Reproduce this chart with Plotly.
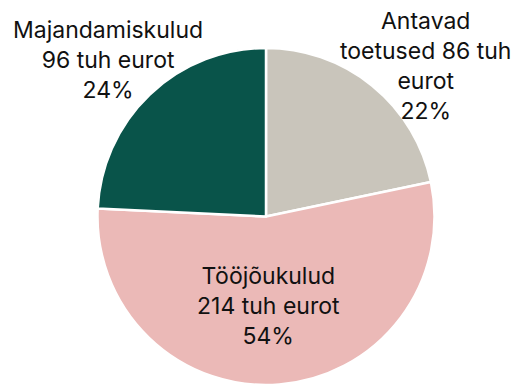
import textwrap
import plotly.graph_objects as go

# Kulude jaotus (tuh eurot)
categories = ["Antavad toetused", "Tööjõukulud", "Majandamiskulud"]
values = [86, 214, 96]
colors = ["#c9c5bb", "#ebb9b7", "#09544a"]

total = sum(values)
percents = [round(v / total * 100) for v in values]


def label_text(name, value, pct, width):
    lines = textwrap.wrap(f"{name} {value} tuh eurot", width)
    return "<br>".join(lines + [f"{pct}%"])


fig = go.Figure(
    go.Pie(
        labels=categories,
        values=values,
        sort=False,
        direction="clockwise",
        rotation=0,
        marker=dict(colors=colors, line=dict(color="white", width=2.5)),
        textinfo="none",
        hoverinfo="label+value+percent",
        showlegend=False,
    )
)

font = dict(family="Inter, sans-serif", size=23, color="#111111")
# label anchor points (paper coords) and wrap widths per slice
label_pos = [(0.817, 0.947, 15), (0.504, 0.234, 14), (0.187, 0.964, 15)]
for name, val, pct, (x, y, w) in zip(categories, values, percents, label_pos):
    fig.add_annotation(
        text=label_text(name, val, pct, w),
        x=x, y=y, xref="paper", yref="paper",
        showarrow=False, font=font, align="center",
        xanchor="center", yanchor="middle",
    )

fig.update_layout(
    width=518, height=385,
    margin=dict(l=14, r=0, t=48, b=0),
    paper_bgcolor="white", plot_bgcolor="white",
)

fig.write_html("out.html")
